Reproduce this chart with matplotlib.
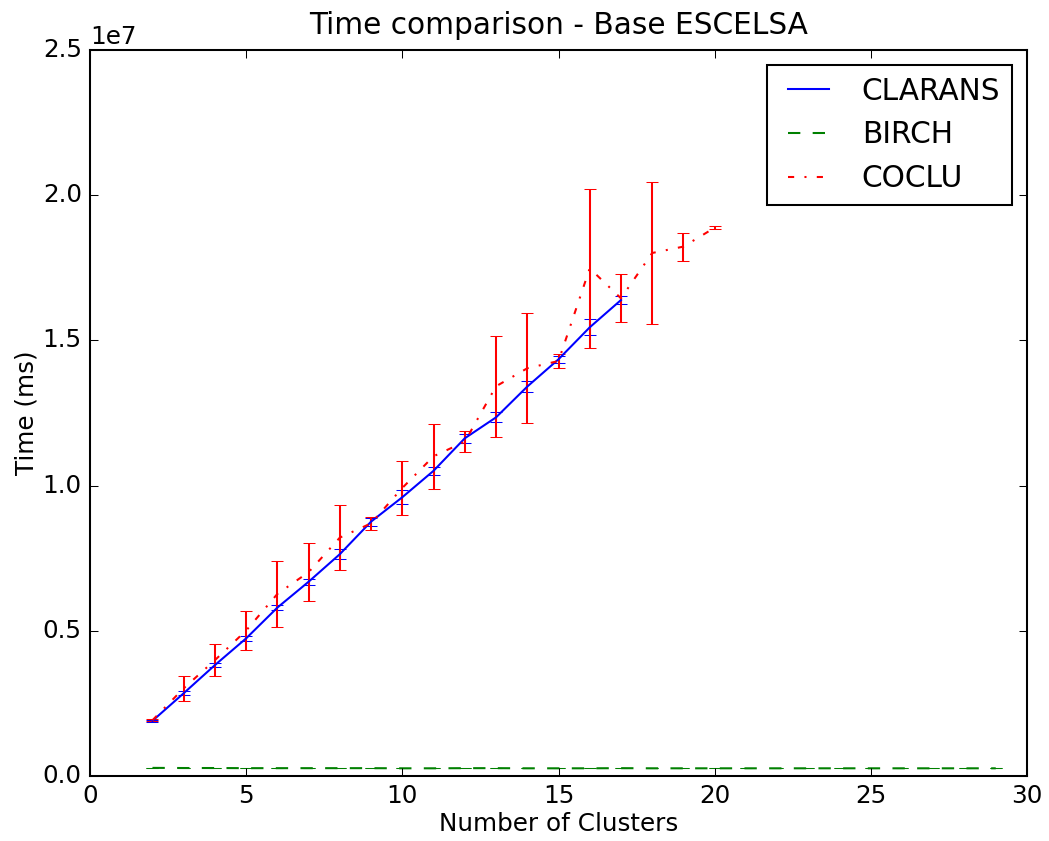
import matplotlib
matplotlib.use("Agg")
import matplotlib.pyplot as plt

plt.style.use("classic")

# cluster counts
CLARANS_K = list(range(2, 18))
BIRCH_K = list(range(2, 30))
COCLU_K = list(range(2, 21))

# mean time (ms) and std
CLARANS_MEAN = [1.90e6, 2.85e6, 3.82e6, 4.74e6, 5.80e6, 6.69e6, 7.64e6, 8.76e6,
                9.60e6, 10.51e6, 11.63e6, 12.35e6, 13.41e6, 14.35e6, 15.45e6, 16.39e6]
CLARANS_STD = [0.03e6, 0.06e6, 0.06e6, 0.09e6, 0.09e6, 0.11e6, 0.16e6, 0.14e6,
               0.24e6, 0.13e6, 0.16e6, 0.17e6, 0.20e6, 0.13e6, 0.28e6, 0.15e6]

BIRCH_MEAN = [2.8e5, 2.75e5, 2.75e5, 2.7e5, 2.7e5, 2.7e5, 2.7e5, 2.7e5, 2.65e5,
              2.65e5, 2.7e5, 2.7e5, 2.65e5, 2.65e5, 2.65e5, 2.7e5, 2.65e5, 2.65e5,
              2.65e5, 2.65e5, 2.65e5, 2.65e5, 2.65e5, 2.65e5, 2.65e5, 2.65e5,
              2.65e5, 2.65e5]
BIRCH_STD = [5e3] * 28

COCLU_MEAN = [1.92e6, 3.02e6, 3.99e6, 5.01e6, 6.27e6, 7.02e6, 8.21e6, 8.70e6,
              9.92e6, 11.01e6, 11.51e6, 13.42e6, 14.04e6, 14.29e6, 17.48e6,
              16.45e6, 18.01e6, 18.23e6, 18.88e6]
COCLU_STD = [0.04e6, 0.44e6, 0.56e6, 0.67e6, 1.14e6, 1.01e6, 1.12e6, 0.22e6,
             0.94e6, 1.12e6, 0.37e6, 1.73e6, 1.89e6, 0.24e6, 2.75e6, 0.83e6,
             2.46e6, 0.48e6, 0.06e6]

fig = plt.figure(figsize=(1049 / 148, 841 / 148), dpi=148, facecolor="white")
ax = fig.add_axes([90 / 1049, 1 - 776 / 841, (1027 - 90) / 1049, (776 - 50) / 841])

c1 = ax.errorbar(CLARANS_K, CLARANS_MEAN, yerr=CLARANS_STD, color="b", linestyle="-")
c2 = ax.errorbar(BIRCH_K, BIRCH_MEAN, yerr=BIRCH_STD, color="g", linestyle="--")
c3 = ax.errorbar(COCLU_K, COCLU_MEAN, yerr=COCLU_STD, color="r", linestyle="-.")

ax.set_xlim(0, 30)
ax.set_ylim(0, 2.5e7)
ax.set_title("Time comparison - Base ESCELSA", pad=8)
ax.set_xlabel("Number of Clusters", labelpad=2)
ax.set_ylabel("Time (ms)", labelpad=2)

ax.legend([c1.lines[0], c2.lines[0], c3.lines[0]], ["CLARANS", "BIRCH", "COCLU"],
          loc="upper right", numpoints=2)

fig.savefig("out.png", dpi=148, facecolor="white")
